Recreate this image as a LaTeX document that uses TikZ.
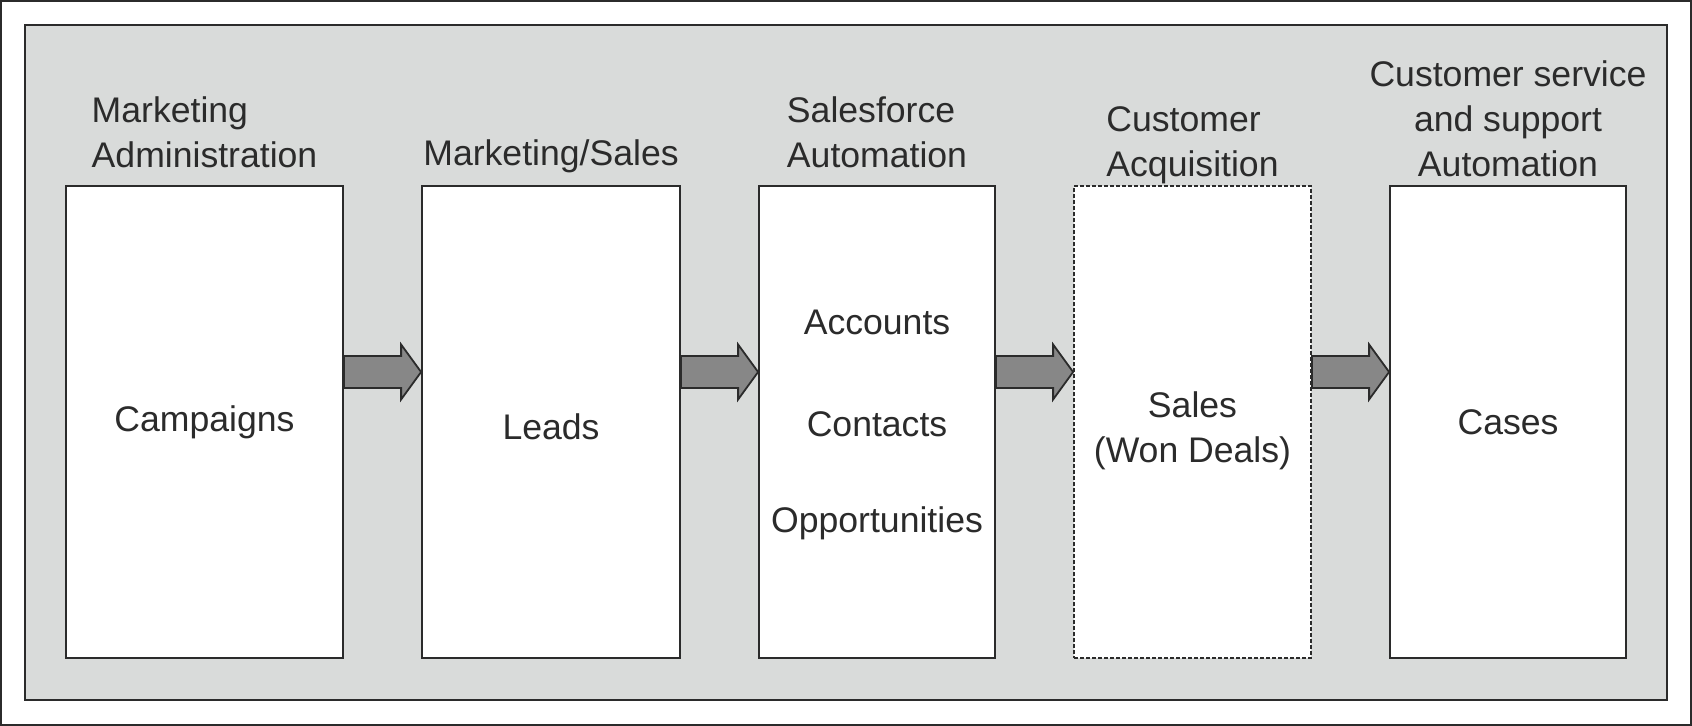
\documentclass[tikz,border=0pt]{standalone}
\usepackage{fontspec}
\setmainfont{Liberation Sans}
\usetikzlibrary{positioning,calc}
\definecolor{panelgray}{HTML}{D9DBDA}
\definecolor{arrowgray}{HTML}{878787}
\definecolor{inkgray}{HTML}{2B2B2B}

\begin{document}
\begin{tikzpicture}[x=0.5pt,y=-0.5pt,
	font=\fontsize{17.8}{22.5}\selectfont, text=inkgray,
	stage/.style={draw=inkgray, line width=0.9pt, fill=white, minimum height=236pt, inner sep=0pt, align=center},
	heading/.style={inner sep=0pt, text depth=0pt},
	flow/.style={draw=inkgray, line width=0.9pt, fill=arrowgray, line join=miter}]
			\useasboundingbox (0,0) rectangle (1692,726);
			\draw[inkgray, line width=1.2pt] (1.2,1.2) rectangle (1690.8,724.8);
			\draw[inkgray, fill=panelgray, line width=1pt] (25,25) rectangle (1667,700);
			% stages
			\node[stage, minimum width=138.5pt] (camp) at (204.5,422) {Campaigns};
			\node[stage, minimum width=129pt, right=38.6pt of camp] (leads) {};
			\node[stage, minimum width=118pt, right=38.6pt of leads] (sfa) {};
			\node[stage, minimum width=118.5pt, right=38.6pt of sfa, dash pattern=on 2pt off 1pt] (acq) {};
			\node[stage, minimum width=118pt, right=38.6pt of acq] (cases) {Cases};
			\node (lds) at ($(leads.center)+(0,5)$) {Leads};
			\node (acc) at ($(sfa.center)+(0,-100)$) {Accounts};
			\node (cont) at ($(sfa.center)+(0,2)$) {Contacts};
			\node (opp) at ($(sfa.center)+(0,101)$) {Opportunities};
			\node[align=center] (won) at ($(acq.center)+(0,9)$) {Sales\\(Won Deals)};
			% headings
			\node[heading, align=left, above=8.5pt of camp] (hcamp) {Marketing\\Administration};
			\node[heading, above=9.5pt of leads] (hleads) {Marketing/Sales};
			\node[heading, align=left, above=8.5pt of sfa] (hsfa) {Salesforce\\Automation};
			\node[heading, align=left, above=4pt of acq] (hacq) {Customer\\Acquisition};
			\node[heading, align=center, above=4pt of cases] (hcases) {Customer service\\and support\\Automation};
			% block arrows
			\foreach \a/\b in {camp/leads, leads/sfa, sfa/acq, acq/cases}
				\draw[flow] ($(\a.east)+(0,-66)$) -- ($(\b.west)+(-20,-66)$) -- ($(\b.west)+(-20,-77.5)$)
					-- ($(\b.west)+(0,-50)$) -- ($(\b.west)+(-20,-22.5)$) -- ($(\b.west)+(-20,-34)$)
					-- ($(\a.east)+(0,-34)$) -- cycle;
		\end{tikzpicture}
\end{document}
